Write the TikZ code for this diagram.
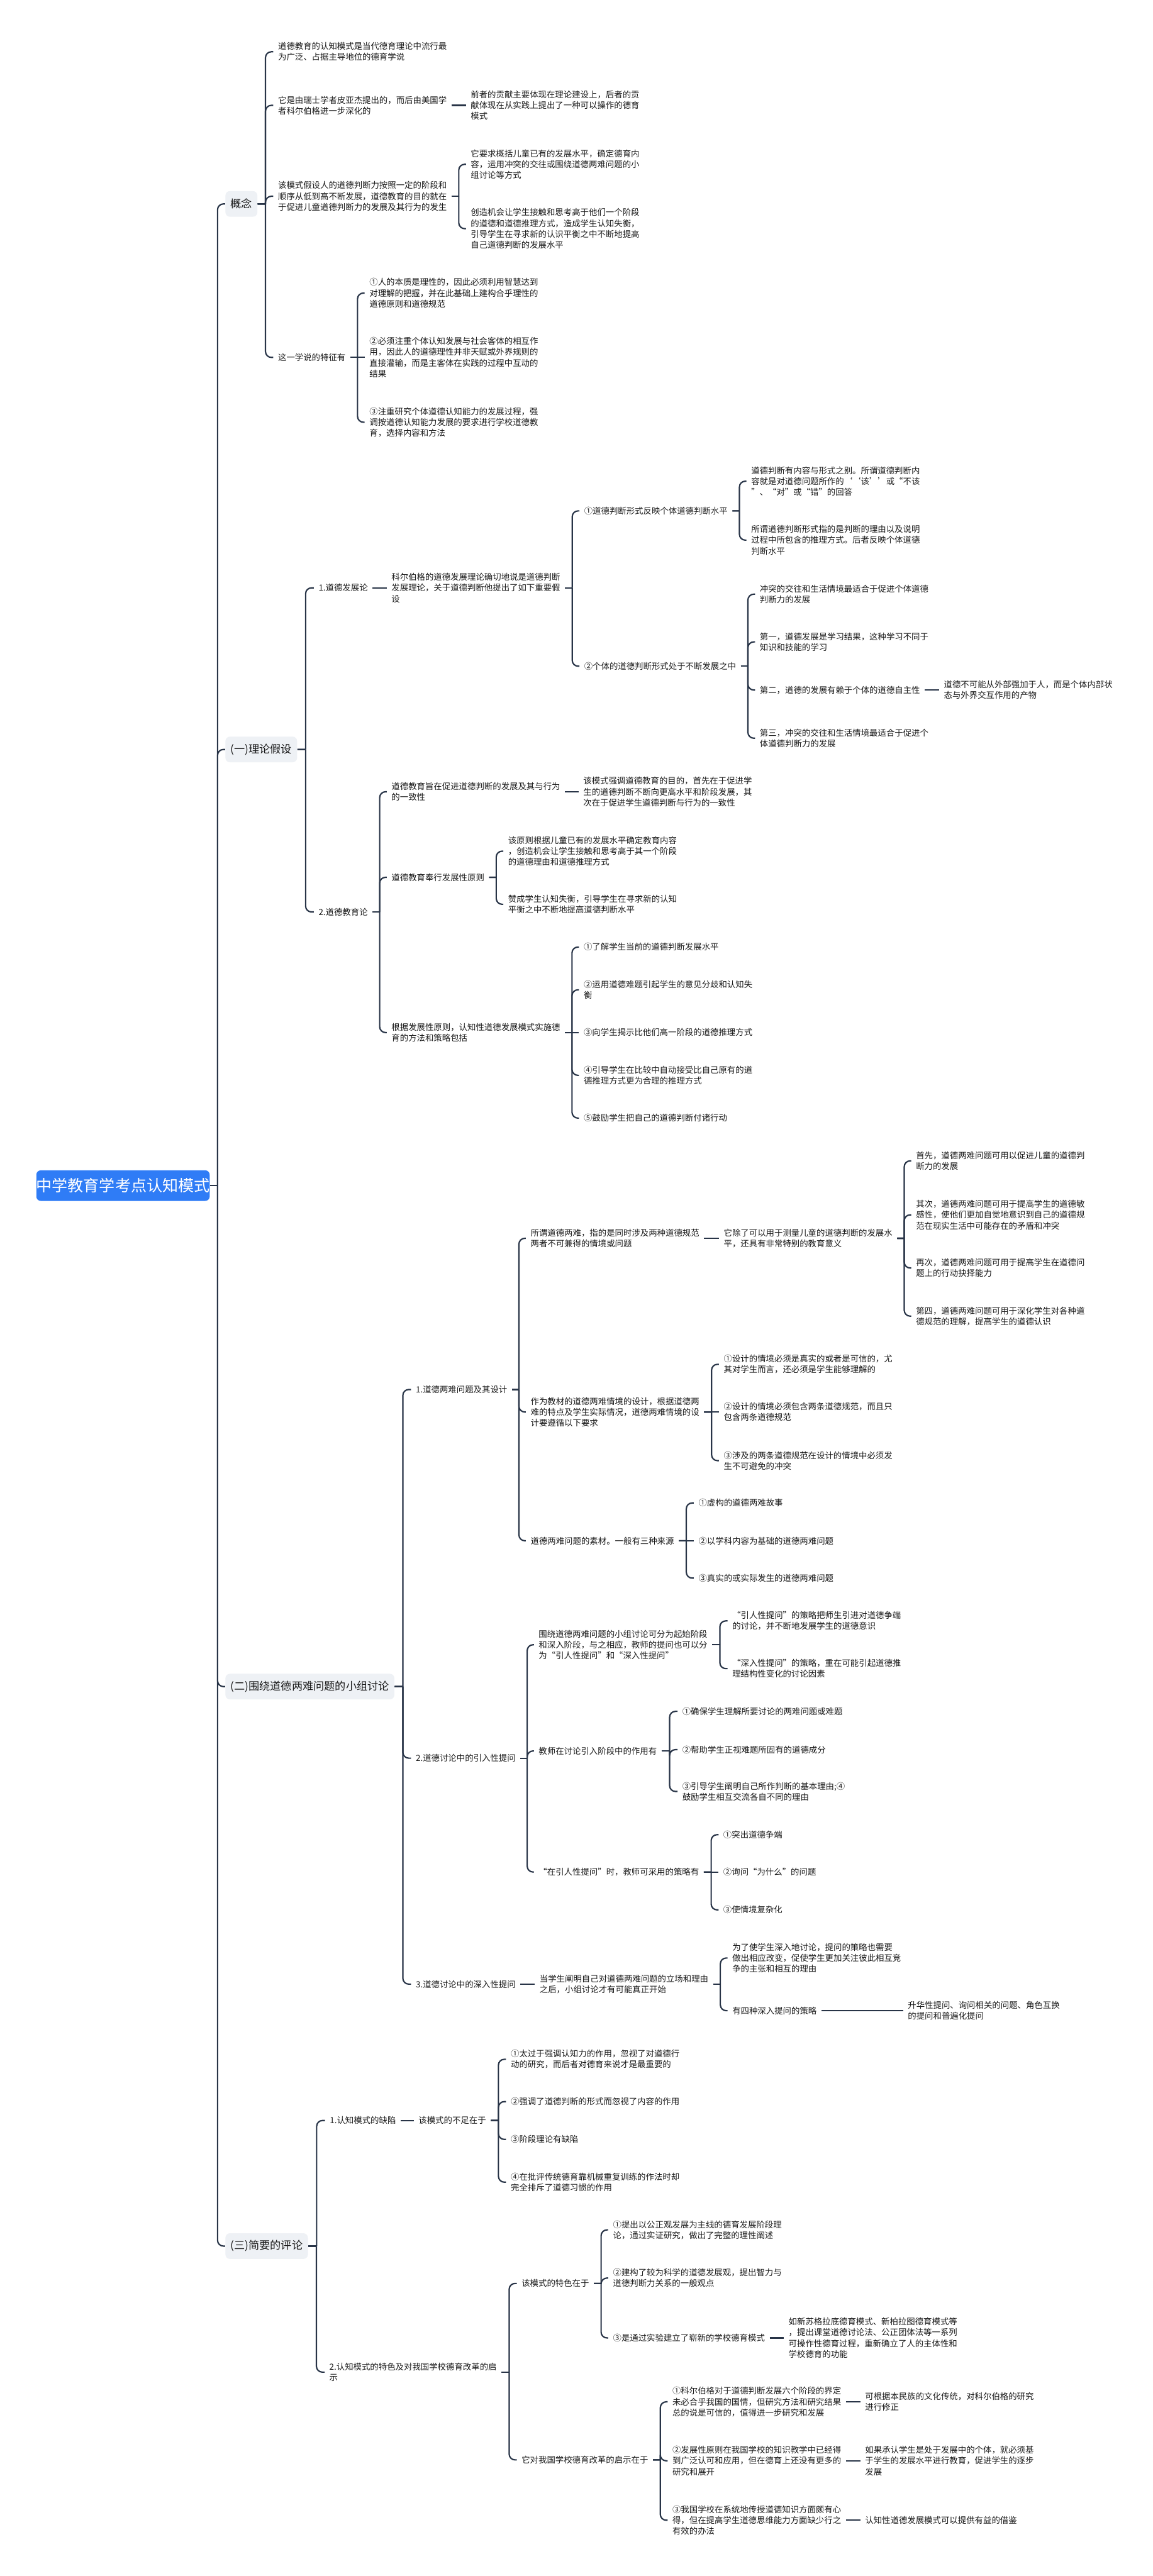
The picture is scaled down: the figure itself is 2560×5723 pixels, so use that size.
\documentclass[tikz,border=0pt]{standalone}
\usepackage{fontspec}
\setmainfont{Noto Sans CJK SC}
\usetikzlibrary{calc}
\definecolor{linkcol}{RGB}{40,52,71}
\definecolor{topicfill}{RGB}{238,241,245}
\definecolor{rootfill}{RGB}{47,124,246}
\definecolor{txtcol}{RGB}{25,25,25}
\tikzset{
  link/.style={draw=linkcol, line width=0.3mm},
  txt/.style={anchor=west, align=left, inner xsep=1mm, inner ysep=0.4mm, text=txtcol,
    font=\fontsize{5.33pt}{6.83pt}\selectfont},
  topic/.style={anchor=west, fill=topicfill, rounded corners=1mm, inner xsep=1.15mm, inner ysep=0pt,
    minimum height=5.7mm, text=txtcol, font=\fontsize{6.83pt}{8pt}\selectfont},
  rootbox/.style={anchor=west, fill=rootfill, rounded corners=1mm, minimum width=38.5mm,
    minimum height=6.8mm, inner sep=0pt, text=white, font=\fontsize{9.96pt}{11pt}\selectfont}
}
% bracket branch from parent to one child
\newcommand{\branch}[2]{%
  \draw[link] (#1.east) -- ($(#1.east)!.5!(#1.east -| #2.west)$);
  \draw[link, rounded corners=1.3mm] ($(#1.east)!.5!(#1.east -| #2.west)$) |- (#2.west);}
% straight branch, child level with parent
\newcommand{\single}[2]{\draw[link] (#1.east) -- (#2.west);}

\begin{document}
\begin{tikzpicture}[x=0.1mm, y=-0.1mm]
  \useasboundingbox (0,0) rectangle (2560,5723);
  \fill[white] (0,0) rectangle (2560,5723);

  \node[rootbox] (root) at (80,2634) {中学教育学考点认知模式};

  \node[topic] (gn) at (500,453) {概念};
  \node[topic] (ll) at (500,1665) {(一)理论假设};
  \node[topic] (tl) at (500,3747) {(二)围绕道德两难问题的小组讨论};
  \node[topic] (pl) at (500,4990) {(三)简要的评论};

  % 概念
  \node[txt] (gn1) at (607,115) {道德教育的认知模式是当代德育理论中流行最\\为广泛、占据主导地位的德育学说};
  \node[txt] (gn2) at (607,234) {它是由瑞士学者皮亚杰提出的，而后由美国学\\者科尔伯格进一步深化的};
  \node[txt] (gn2a) at (1035,234) {前者的贡献主要体现在理论建设上，后者的贡\\献体现在从实践上提出了一种可以操作的德育\\模式};
  \node[txt] (gn3) at (607,436) {该模式假设人的道德判断力按照一定的阶段和\\顺序从低到高不断发展，道德教育的目的就在\\于促进儿童道德判断力的发展及其行为的发生};
  \node[txt] (gn3a) at (1035,365) {它要求概括儿童已有的发展水平，确定德育内\\容，运用冲突的交往或围绕道德两难问题的小\\组讨论等方式};
  \node[txt] (gn3b) at (1035,508) {创造机会让学生接触和思考高于他们一个阶段\\的道德和道德推理方式，造成学生认知失衡，\\引导学生在寻求新的认识平衡之中不断地提高\\自己道德判断的发展水平};
  \node[txt] (gn4) at (607,794) {这一学说的特征有};
  \node[txt] (gn4a) at (810,651) {①人的本质是理性的，因此必须利用智慧达到\\对理解的把握，并在此基础上建构合乎理性的\\道德原则和道德规范};
  \node[txt] (gn4b) at (810,794) {②必须注重个体认知发展与社会客体的相互作\\用，因此人的道德理性并非天赋或外界规则的\\直接灌输，而是主客体在实践的过程中互动的\\结果};
  \node[txt] (gn4c) at (810,938) {③注重研究个体道德认知能力的发展过程，强\\调按道德认知能力发展的要求进行学校道德教\\育，选择内容和方法};

  % 理论假设
  \node[txt] (ll1) at (697,1306) {1.道德发展论};
  \node[txt] (ll1a) at (859,1306) {科尔伯格的道德发展理论确切地说是道德判断\\发展理论，关于道德判断他提出了如下重要假\\设};
  \node[txt] (ll1a1) at (1287,1135) {①道德判断形式反映个体道德判断水平};
  \node[txt] (ll1a1a) at (1658,1069) {道德判断有内容与形式之别。所谓道德判断内\\容就是对道德问题所作的‘‘该’’或“不该\\”、“对”或“错”的回答};
  \node[txt] (ll1a1b) at (1658,1200) {所谓道德判断形式指的是判断的理由以及说明\\过程中所包含的推理方式。后者反映个体道德\\判断水平};
  \node[txt] (ll1a2) at (1287,1480) {②个体的道德判断形式处于不断发展之中};
  \node[txt] (ll1a2a) at (1677,1320) {冲突的交往和生活情境最适合于促进个体道德\\判断力的发展};
  \node[txt] (ll1a2b) at (1677,1426) {第一，道德发展是学习结果，这种学习不同于\\知识和技能的学习};
  \node[txt] (ll1a2c) at (1677,1533) {第二，道德的发展有赖于个体的道德自主性};
  \node[txt] (ll1a2c1) at (2086,1533) {道德不可能从外部强加于人，而是个体内部状\\态与外界交互作用的产物};
  \node[txt] (ll1a2d) at (1677,1640) {第三，冲突的交往和生活情境最适合于促进个\\体道德判断力的发展};
  \node[txt] (ll2) at (697,2026) {2.道德教育论};
  \node[txt] (ll2a) at (859,1759) {道德教育旨在促进道德判断的发展及其与行为\\的一致性};
  \node[txt] (ll2a1) at (1285,1759) {该模式强调道德教育的目的，首先在于促进学\\生的道德判断不断向更高水平和阶段发展，其\\次在于促进学生道德判断与行为的一致性};
  \node[txt] (ll2b) at (859,1949) {道德教育奉行发展性原则};
  \node[txt] (ll2b1) at (1118,1891) {该原则根据儿童已有的发展水平确定教育内容\\，创造机会让学生接触和思考高于其一个阶段\\的道德理由和道德推理方式};
  \node[txt] (ll2b2) at (1118,2009) {赞成学生认知失衡，引导学生在寻求新的认知\\平衡之中不断地提高道德判断水平};
  \node[txt] (ll2c) at (859,2294) {根据发展性原则，认知性道德发展模式实施德\\育的方法和策略包括};
  \node[txt] (ll2c1) at (1286,2104) {①了解学生当前的道德判断发展水平};
  \node[txt] (ll2c2) at (1286,2199) {②运用道德难题引起学生的意见分歧和认知失\\衡};
  \node[txt] (ll2c3) at (1286,2294) {③向学生揭示比他们高一阶段的道德推理方式};
  \node[txt] (ll2c4) at (1286,2389) {④引导学生在比较中自动接受比自己原有的道\\德推理方式更为合理的推理方式};
  \node[txt] (ll2c5) at (1286,2484) {⑤鼓励学生把自己的道德判断付诸行动};

  % 小组讨论
  \node[txt] (tl1) at (913,3087) {1.道德两难问题及其设计};
  \node[txt] (tl1a) at (1168,2751) {所谓道德两难，指的是同时涉及两种道德规范\\两者不可兼得的情境或问题};
  \node[txt] (tl1a1) at (1597,2751) {它除了可以用于测量儿童的道德判断的发展水\\平，还具有非常特别的教育意义};
  \node[txt] (tl1a1a) at (2024,2579) {首先，道德两难问题可用以促进儿童的道德判\\断力的发展};
  \node[txt] (tl1a1b) at (2024,2699) {其次，道德两难问题可用于提高学生的道德敏\\感性，使他们更加自觉地意识到自己的道德规\\范在现实生活中可能存在的矛盾和冲突};
  \node[txt] (tl1a1c) at (2024,2817) {再次，道德两难问题可用于提高学生在道德问\\题上的行动抉择能力};
  \node[txt] (tl1a1d) at (2024,2924) {第四，道德两难问题可用于深化学生对各种道\\德规范的理解，提高学生的道德认识};
  \node[txt] (tl1b) at (1168,3137) {作为教材的道德两难情境的设计，根据道德两\\难的特点及学生实际情况，道德两难情境的设\\计要遵循以下要求};
  \node[txt] (tl1b1) at (1597,3031) {①设计的情境必须是真实的或者是可信的，尤\\其对学生而言，还必须是学生能够理解的};
  \node[txt] (tl1b2) at (1597,3137) {②设计的情境必须包含两条道德规范，而且只\\包含两条道德规范};
  \node[txt] (tl1b3) at (1597,3245) {③涉及的两条道德规范在设计的情境中必须发\\生不可避免的冲突};
  \node[txt] (tl1c) at (1168,3423) {道德两难问题的素材。一般有三种来源};
  \node[txt] (tl1c1) at (1541,3339) {①虚构的道德两难故事};
  \node[txt] (tl1c2) at (1541,3423) {②以学科内容为基础的道德两难问题};
  \node[txt] (tl1c3) at (1541,3506) {③真实的或实际发生的道德两难问题};
  \node[txt] (tl2) at (913,3906) {2.道德讨论中的引入性提问};
  \node[txt] (tl2a) at (1186,3654) {围绕道德两难问题的小组讨论可分为起始阶段\\和深入阶段，与之相应，教师的提问也可以分\\为“引人性提问”和“深入性提问”};
  \node[txt] (tl2a1) at (1616,3601) {“引人性提问”的策略把师生引进对道德争端\\的讨论，并不断地发展学生的道德意识};
  \node[txt] (tl2a2) at (1616,3707) {“深入性提问”的策略，重在可能引起道德推\\理结构性变化的讨论因素};
  \node[txt] (tl2b) at (1186,3890) {教师在讨论引入阶段中的作用有};
  \node[txt] (tl2b1) at (1505,3802) {①确保学生理解所要讨论的两难问题或难题};
  \node[txt] (tl2b2) at (1505,3887) {②帮助学生正视难题所固有的道德成分};
  \node[txt] (tl2b3) at (1505,3980) {③引导学生阐明自己所作判断的基本理由;④\\鼓励学生相互交流各自不同的理由};
  \node[txt] (tl2c) at (1186,4159) {“在引人性提问”时，教师可采用的策略有};
  \node[txt] (tl2c1) at (1596,4076) {①突出道德争端};
  \node[txt] (tl2c2) at (1596,4159) {②询问“为什么”的问题};
  \node[txt] (tl2c3) at (1596,4243) {③使情境复杂化};
  \node[txt] (tl3) at (913,4408) {3.道德讨论中的深入性提问};
  \node[txt] (tl3a) at (1188,4408) {当学生阐明自己对道德两难问题的立场和理由\\之后，小组讨论才有可能真正开始};
  \node[txt] (tl3a1) at (1616,4350) {为了使学生深入地讨论，提问的策略也需要\\做出相应改变，促使学生更加关注彼此相互竞\\争的主张和相互的理由};
  \node[txt] (tl3a2) at (1616,4467) {有四种深入提问的策略};
  \node[txt] (tl3a2a) at (2006,4467) {升华性提问、询问相关的问题、角色互换\\的提问和普遍化提问};

  % 简要的评论
  \node[txt] (pl1) at (722,4711) {1.认知模式的缺陷};
  \node[txt] (pl1a) at (919,4711) {该模式的不足在于};
  \node[txt] (pl1a1) at (1124,4575) {①太过于强调认知力的作用，忽视了对道德行\\动的研究，而后者对德育来说才是最重要的};
  \node[txt] (pl1a2) at (1124,4669) {②强调了道德判断的形式而忽视了内容的作用};
  \node[txt] (pl1a3) at (1124,4753) {③阶段理论有缺陷};
  \node[txt] (pl1a4) at (1124,4848) {④在批评传统德育靠机械重复训练的作法时却\\完全排斥了道德习惯的作用};
  \node[txt] (pl2) at (721,5270) {2.认知模式的特色及对我国学校德育改革的启\\示};
  \node[txt] (pl2a) at (1148,5073) {该模式的特色在于};
  \node[txt] (pl2a1) at (1351,4954) {①提出以公正观发展为主线的德育发展阶段理\\论，通过实证研究，做出了完整的理性阐述};
  \node[txt] (pl2a2) at (1351,5061) {②建构了较为科学的道德发展观，提出智力与\\道德判断力关系的一般观点};
  \node[txt] (pl2a3) at (1351,5194) {③是通过实验建立了崭新的学校德育模式};
  \node[txt] (pl2a3a) at (1741,5194) {如新苏格拉底德育模式、新柏拉图德育模式等\\，提出课堂道德讨论法、公正团体法等一系列\\可操作性德育过程，重新确立了人的主体性和\\学校德育的功能};
  \node[txt] (pl2b) at (1148,5465) {它对我国学校德育改革的启示在于};
  \node[txt] (pl2b1) at (1483,5336) {①科尔伯格对于道德判断发展六个阶段的界定\\未必合乎我国的国情，但研究方法和研究结果\\总的说是可信的，值得进一步研究和发展};
  \node[txt] (pl2b1a) at (1911,5336) {可根据本民族的文化传统，对科尔伯格的研究\\进行修正};
  \node[txt] (pl2b2) at (1483,5467) {②发展性原则在我国学校的知识教学中已经得\\到广泛认可和应用，但在德育上还没有更多的\\研究和展开};
  \node[txt] (pl2b2a) at (1911,5467) {如果承认学生是处于发展中的个体，就必须基\\于学生的发展水平进行教育，促进学生的逐步\\发展};
  \node[txt] (pl2b3) at (1483,5599) {③我国学校在系统地传授道德知识方面颇有心\\得，但在提高学生道德思维能力方面缺少行之\\有效的办法};
  \node[txt] (pl2b3a) at (1911,5599) {认知性道德发展模式可以提供有益的借鉴};

  % connectors
  \foreach \c in {gn,ll,tl,pl} {\branch{root}{\c}}
  \foreach \c in {gn1,gn2,gn3} {\branch{gn}{\c}}
  \branch{gn}{gn4}
  \single{gn2}{gn2a}
  \foreach \c in {gn3a,gn3b} {\branch{gn3}{\c}}
  \foreach \c in {gn4a,gn4c} {\branch{gn4}{\c}}
  \single{gn4}{gn4b}
  \foreach \c in {ll1,ll2} {\branch{ll}{\c}}
  \single{ll1}{ll1a}
  \foreach \c in {ll1a1,ll1a2} {\branch{ll1a}{\c}}
  \foreach \c in {ll1a1a,ll1a1b} {\branch{ll1a1}{\c}}
  \foreach \c in {ll1a2a,ll1a2b,ll1a2c,ll1a2d} {\branch{ll1a2}{\c}}
  \single{ll1a2c}{ll1a2c1}
  \foreach \c in {ll2a,ll2b,ll2c} {\branch{ll2}{\c}}
  \single{ll2a}{ll2a1}
  \foreach \c in {ll2b1,ll2b2} {\branch{ll2b}{\c}}
  \foreach \c in {ll2c1,ll2c2,ll2c4,ll2c5} {\branch{ll2c}{\c}}
  \single{ll2c}{ll2c3}
  \foreach \c in {tl1,tl2,tl3} {\branch{tl}{\c}}
  \foreach \c in {tl1a,tl1b,tl1c} {\branch{tl1}{\c}}
  \single{tl1a}{tl1a1}
  \foreach \c in {tl1a1a,tl1a1b,tl1a1c,tl1a1d} {\branch{tl1a1}{\c}}
  \foreach \c in {tl1b1,tl1b3} {\branch{tl1b}{\c}}
  \single{tl1b}{tl1b2}
  \foreach \c in {tl1c1,tl1c3} {\branch{tl1c}{\c}}
  \single{tl1c}{tl1c2}
  \foreach \c in {tl2a,tl2b,tl2c} {\branch{tl2}{\c}}
  \foreach \c in {tl2a1,tl2a2} {\branch{tl2a}{\c}}
  \foreach \c in {tl2b1,tl2b2,tl2b3} {\branch{tl2b}{\c}}
  \foreach \c in {tl2c1,tl2c3} {\branch{tl2c}{\c}}
  \single{tl2c}{tl2c2}
  \single{tl3}{tl3a}
  \foreach \c in {tl3a1,tl3a2} {\branch{tl3a}{\c}}
  \single{tl3a2}{tl3a2a}
  \foreach \c in {pl1,pl2} {\branch{pl}{\c}}
  \single{pl1}{pl1a}
  \foreach \c in {pl1a1,pl1a2,pl1a3,pl1a4} {\branch{pl1a}{\c}}
  \foreach \c in {pl2a,pl2b} {\branch{pl2}{\c}}
  \foreach \c in {pl2a1,pl2a2,pl2a3} {\branch{pl2a}{\c}}
  \single{pl2a3}{pl2a3a}
  \foreach \c in {pl2b1,pl2b2,pl2b3} {\branch{pl2b}{\c}}
  \single{pl2b1}{pl2b1a}
  \single{pl2b2}{pl2b2a}
  \single{pl2b3}{pl2b3a}
\end{tikzpicture}
\end{document}
